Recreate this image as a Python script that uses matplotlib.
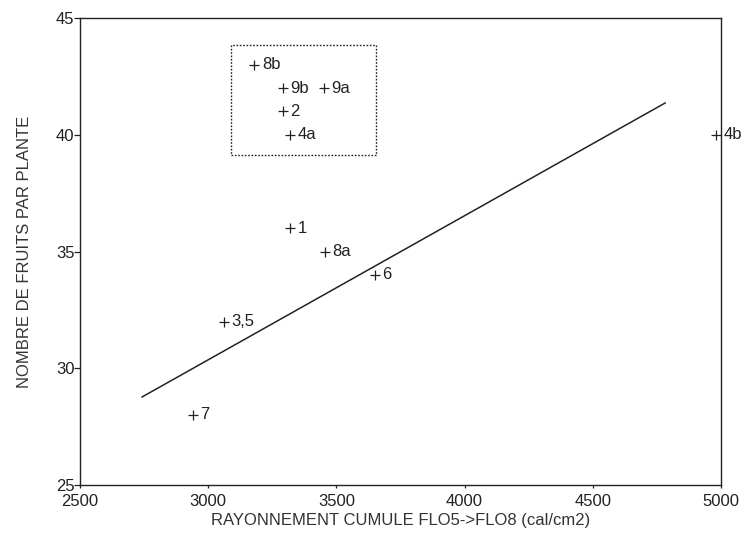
import numpy as np
import matplotlib
matplotlib.use("Agg")
from matplotlib import pyplot as plt
from matplotlib.patches import Rectangle

plt.rcParams['font.family'] = ['Liberation Sans', 'DejaVu Sans']

# points
labels = ['8b', '9b', '9a', '2', '4a', '4b', '1', '8a', '6', '3,5', '7']
rayonnement = [3180, 3290, 3450, 3290, 3320, 4980, 3320, 3455, 3650, 3060, 2940]
fruits = [43, 42, 42, 41, 40, 40, 36, 35, 34, 32, 28]

# regression line ends
line_x = [2742, 4782]
line_y = [28.77, 41.36]

# dotted box round the upper group
box_x = [3089, 3654]
box_y = [39.13, 43.84]

xticks = [2500, 3000, 3500, 4000, 4500, 5000]
yticks = [25, 30, 35, 40, 45]

fig = plt.figure(figsize=(7.52, 5.37), dpi=100)
ax = fig.add_axes([0.1064, 0.0968, 0.8524, 0.8697])

ink = '#222222'
ax.plot(line_x, line_y, color=ink, lw=1.1)
ax.plot(rayonnement, fruits, ls='none', marker='+', ms=7, mew=0.9, color=ink)
for lab, x, y in zip(labels, rayonnement, fruits):
    ax.annotate(lab, (x, y), xytext=(5.5, 0), textcoords='offset points',
                va='center', ha='left', fontsize=12, color=ink)

ax.add_patch(Rectangle((box_x[0], box_y[0]), box_x[1] - box_x[0], box_y[1] - box_y[0],
                       fill=False, ls=(0, (1.2, 1.2)), lw=1.0, ec=ink))

ax.set_xlim(2500, 5000)
ax.set_ylim(25, 45)
ax.set_xticks(xticks)
ax.set_yticks(yticks)
ax.tick_params(axis='both', direction='out', length=4, width=0.9, colors=ink,
               labelsize=12, pad=1)
ax.tick_params(axis='x', length=2, pad=4.5)
ax.tick_params(axis='y', pad=0)
for s in ax.spines.values():
    s.set_linewidth(1.0)
    s.set_color(ink)

ax.set_xlabel('RAYONNEMENT CUMULE FLO5->FLO8 (cal/cm2)', fontsize=12, color='#333333', labelpad=3)
ax.set_ylabel('NOMBRE DE FRUITS PAR PLANTE', fontsize=12, color='#333333', labelpad=17)

fig.savefig('out.png', dpi=100, facecolor='white')
